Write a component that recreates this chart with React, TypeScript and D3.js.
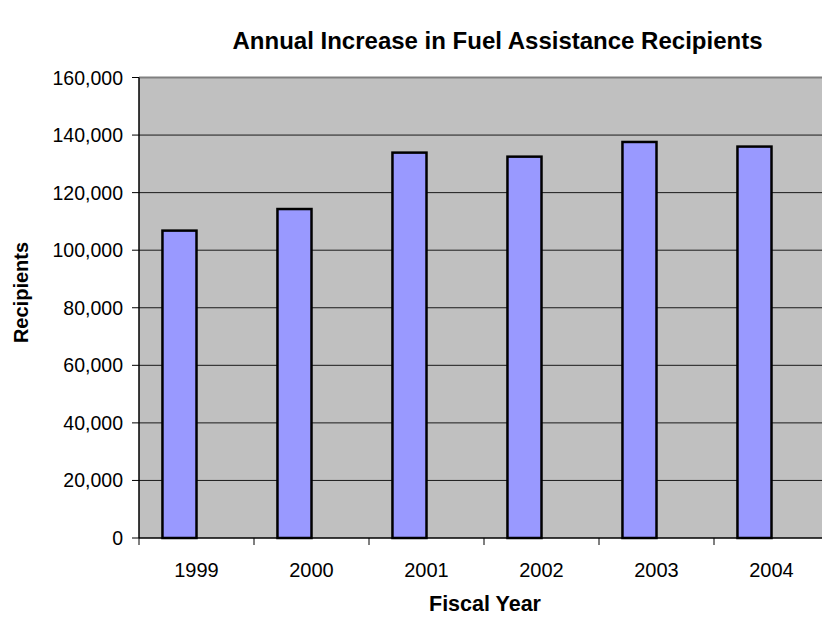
import React from 'react';
import * as d3 from 'd3';

// data
const years = ['1999', '2000', '2001', '2002', '2003', '2004'];
const recipients = [106800, 114300, 133900, 132500, 137600, 136000];
const yTicks = [0, 20000, 40000, 60000, 80000, 100000, 120000, 140000, 160000];

const W = 822;
const H = 619;
const margin = { top: 77.5, right: -7, bottom: 81, left: 139 };

const font = 'Liberation Sans, Arial, Helvetica, sans-serif';

export default function App() {
  const x0 = margin.left;
  const x1 = W - margin.right;
  const y0 = H - margin.bottom;
  const y1 = margin.top;

  const xScale = d3.scaleBand<string>().domain(years).range([x0, x1]).padding(0);
  const yScale = d3.scaleLinear().domain([0, 160000]).range([y0, y1]);
  const fmt = d3.format(',');

  const bw = xScale.bandwidth();
  const barW = bw * 0.296;

  return (
    <svg
      width={W}
      height={H}
      style={{ position: 'absolute', left: 0, top: 0, background: '#fff' }}
      fontFamily={font}
    >
      {/* plot background */}
      <rect x={x0} y={y1} width={x1 - x0} height={y0 - y1} fill="#C0C0C0" />
      <line x1={x0} x2={x1} y1={y1} y2={y1} stroke="#808080" strokeWidth={2} />

      {/* grid */}
      {yTicks.filter(t => t > 0 && t < 160000).map(t => (
        <line key={t} x1={x0} x2={x1} y1={yScale(t)} y2={yScale(t)} stroke="#1a1a1a" strokeWidth={1} />
      ))}

      {/* bars */}
      {years.map((yr, i) => {
        const cx = (xScale(yr) as number) + bw / 2;
        return (
          <rect
            key={yr}
            x={cx - barW}
            y={yScale(recipients[i])}
            width={barW}
            height={y0 - yScale(recipients[i])}
            fill="#9999FF"
            stroke="#000"
            strokeWidth={2.5}
          />
        );
      })}

      {/* y axis */}
      <line x1={x0} x2={x0} y1={y1} y2={y0} stroke="#000" strokeWidth={1.5} />
      {yTicks.map(t => (
        <g key={t}>
          <line x1={x0 - 7} x2={x0} y1={yScale(t)} y2={yScale(t)} stroke="#000" strokeWidth={1} />
          <text x={x0 - 16} y={yScale(t)} dy="0.36em" textAnchor="end" fontSize={19.5} fill="#000">
            {fmt(t)}
          </text>
        </g>
      ))}

      {/* x axis */}
      <line x1={x0} x2={x1} y1={y0} y2={y0} stroke="#000" strokeWidth={1.5} />
      {years.concat(['end']).map((yr, i) => {
        const tx = x0 + i * bw;
        return <line key={'t' + yr} x1={tx} x2={tx} y1={y0} y2={y0 + 7} stroke="#000" strokeWidth={1} />;
      })}
      {years.map(yr => (
        <text key={yr} x={(xScale(yr) as number) + bw / 2} y={577} textAnchor="middle" fontSize={20} fill="#000">
          {yr}
        </text>
      ))}

      {/* titles */}
      <text x={497.5} y={49} textAnchor="middle" fontSize={24} fontWeight="bold" fill="#000">
        Annual Increase in Fuel Assistance Recipients
      </text>
      <text x={485} y={611} textAnchor="middle" fontSize={21.5} fontWeight="bold" fill="#000">
        Fiscal Year
      </text>
      <text
        transform="translate(28, 292.5) rotate(-90)"
        textAnchor="middle"
        fontSize={20}
        fontWeight="bold"
        fill="#000"
      >
        Recipients
      </text>
    </svg>
  );
}
